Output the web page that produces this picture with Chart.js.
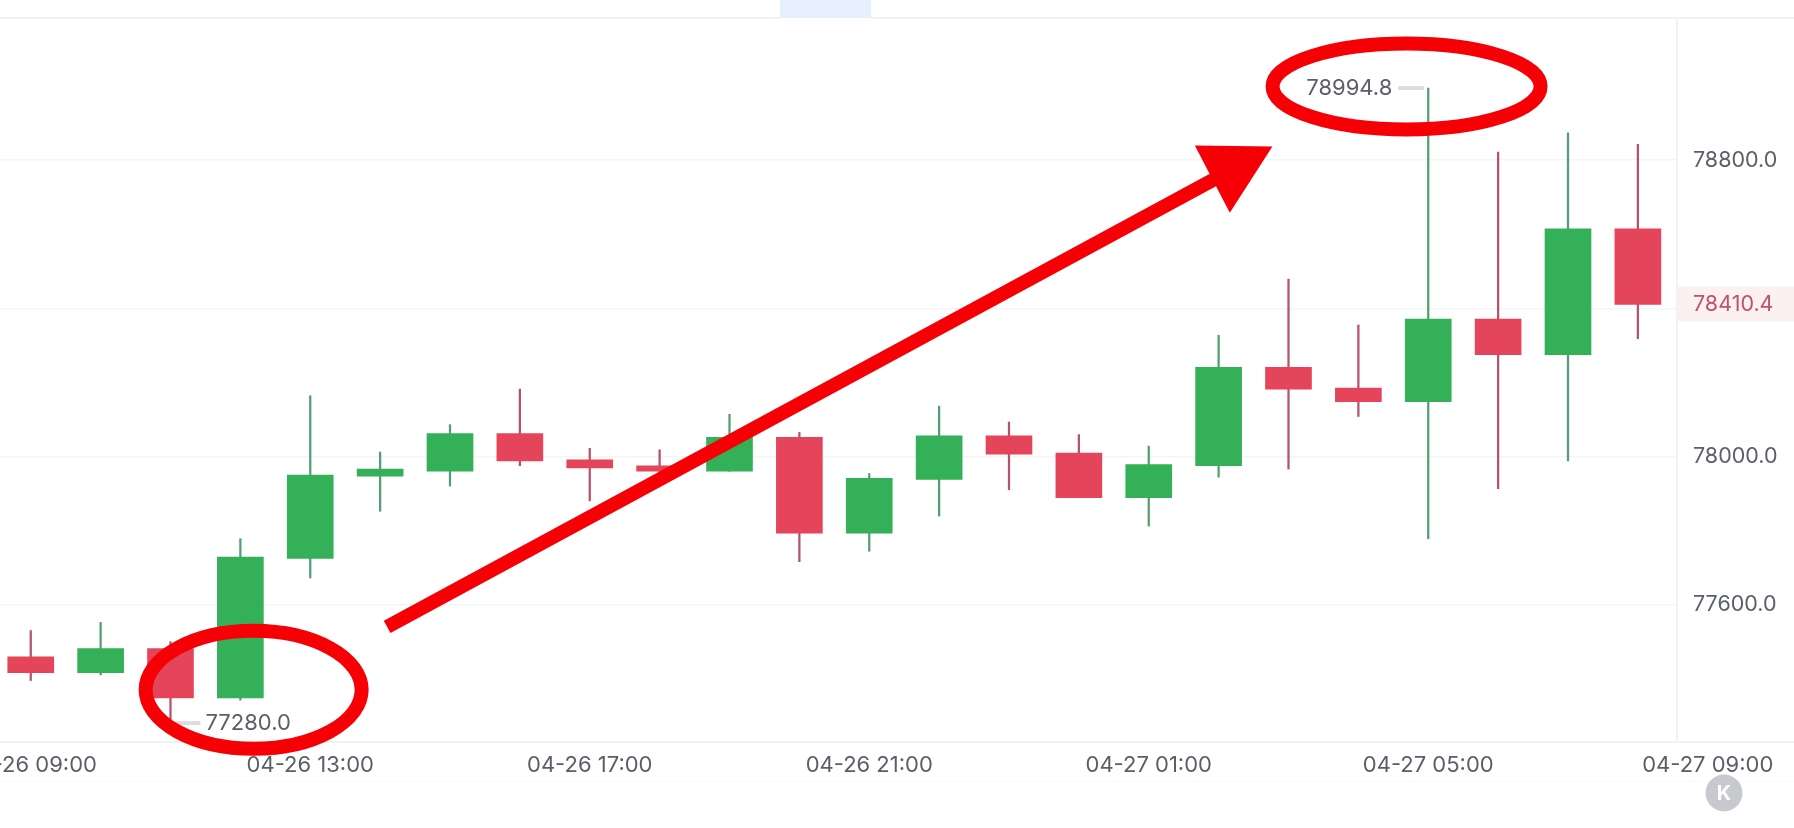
<!DOCTYPE html>
<html>
<head>
<meta charset="utf-8">
<title>BTC candles</title>
<script src="https://cdn.jsdelivr.net/npm/chart.js@4"></script>
<style>
    html, body { margin: 0; padding: 0; background: #fff; overflow: hidden; }
    canvas { display: block; }
</style>
</head>
<body>
<canvas id="kline_chart" width="1794" height="828"></canvas>
<script>
const times = ['04-26 09:00', '04-26 10:00', '04-26 11:00', '04-26 12:00', '04-26 13:00', '04-26 14:00',
    '04-26 15:00', '04-26 16:00', '04-26 17:00', '04-26 18:00', '04-26 19:00', '04-26 20:00',
    '04-26 21:00', '04-26 22:00', '04-26 23:00', '04-27 00:00', '04-27 01:00', '04-27 02:00',
    '04-27 03:00', '04-27 04:00', '04-27 05:00', '04-27 06:00', '04-27 07:00', '04-27 08:00'];
const opens = [77459, 77416, 77481, 77348, 77725, 77947, 77960, 78062, 77991, 77975, 77960, 78052,
    77793, 77938, 78056, 78009, 77889, 77975, 78241, 78185, 78148, 78371, 78275, 78615];
const closes = [77416, 77481, 77348, 77728, 77950, 77966, 78062, 77988, 77969, 77960, 78052, 77793,
    77941, 78056, 78006, 77889, 77978, 78241, 78182, 78148, 78371, 78275, 78615, 78410.4];
const lows = [77395, 77410, 77280, 77342, 77672, 77852, 77920, 77975, 77880, 77923, 77960, 77716,
    77744, 77839, 77910, 77889, 77812, 77944, 77966, 78108, 77778, 77913, 77988, 78318];
const highs = [77530, 77552, 77500, 77778, 78164, 78012, 78086, 78182, 78022, 78018, 78114, 78065,
    77954, 78136, 78093, 78059, 78028, 78327, 78479, 78355, 78995, 78822, 78874, 78843];

const xTickValues = [0, 4, 8, 12, 16, 20, 24];
const xTickLabels = ['04-26 09:00', '04-26 13:00', '04-26 17:00', '04-26 21:00', '04-27 01:00', '04-27 05:00', '04-27 09:00'];
const yTickValues = [77600, 78000, 78400, 78410.4, 78800];
const lastPrice = 78410.4;

// the extremes marked on the chart
const highMark = { index: 20, value: 78994.8, label: '78994.8' };
const lowMark = { index: 2, value: 77280, label: '77280.0' };

const green = '#33b058';
const red = '#e5455a';
const greenWick = '#539f73';
const redWick = '#b5536d';
const textColor = '#5a5e66';
const fontFamily = 'Inter, Roboto, sans-serif';

const bodies = times.map((t, i) => ({ x: i, y: [opens[i], closes[i]] }));
const wicks = times.map((t, i) => ({ x: i, y: [lows[i], highs[i]] }));
const isUp = i => closes[i] >= opens[i];

// frame lines, extreme labels and the red hand drawn marks
const overlay = {
    id: 'overlay',
    beforeDatasetsDraw(chart) {
        const ctx = chart.ctx;
        const area = chart.chartArea;
        ctx.save();
        ctx.fillStyle = '#e6f0fd';
        ctx.fillRect(780, 0, 91, 18);
        ctx.fillStyle = '#f1f2f4';
        ctx.fillRect(0, 17, 780, 2);
        ctx.fillRect(871, 17, 923, 2);
        ctx.fillRect(0, area.bottom - 1, 1794, 2);
        ctx.fillRect(area.right - 1, area.top, 2, area.bottom - area.top);
        ctx.fillStyle = '#f9f9fa';
        ctx.fillRect(0, 781, 1794, 1);
        ctx.restore();
    },
    afterDatasetsDraw(chart) {
        const ctx = chart.ctx;
        const x = chart.scales.x;
        const y = chart.scales.y;
        ctx.save();

        // high / low labels with their small dash
        ctx.font = '22px ' + fontFamily;
        ctx.textBaseline = 'middle';
        ctx.fillStyle = '#dcdddf';
        ctx.fillRect(x.getPixelForValue(highMark.index) - 30, y.getPixelForValue(highMark.value) - 2, 26, 4);
        ctx.fillRect(x.getPixelForValue(lowMark.index) + 4, y.getPixelForValue(lowMark.value) - 2, 26, 4);
        ctx.fillStyle = textColor;
        ctx.textAlign = 'right';
        ctx.fillText(highMark.label, x.getPixelForValue(highMark.index) - 36, y.getPixelForValue(highMark.value));
        ctx.textAlign = 'left';
        ctx.fillText(lowMark.label, x.getPixelForValue(lowMark.index) + 35, y.getPixelForValue(lowMark.value));

        // red ellipses
        ctx.strokeStyle = '#f60006';
        ctx.fillStyle = '#f60006';
        ctx.lineWidth = 14;
        ctx.beginPath();
        ctx.ellipse(x.getPixelForValue(3.19), y.getPixelForValue(77370), 108, 59, 0, 0, Math.PI * 2);
        ctx.stroke();
        ctx.beginPath();
        ctx.ellipse(x.getPixelForValue(19.69), y.getPixelForValue(78999), 134, 43, 0, 0, Math.PI * 2);
        ctx.stroke();

        // red arrow
        ctx.lineWidth = 14;
        ctx.beginPath();
        ctx.moveTo(x.getPixelForValue(5.10), y.getPixelForValue(77540));
        ctx.lineTo(x.getPixelForValue(17.14), y.getPixelForValue(78769));
        ctx.stroke();
        ctx.beginPath();
        ctx.moveTo(x.getPixelForValue(16.66), y.getPixelForValue(78840));
        ctx.lineTo(x.getPixelForValue(17.77), y.getPixelForValue(78837));
        ctx.lineTo(x.getPixelForValue(17.16), y.getPixelForValue(78658));
        ctx.closePath();
        ctx.fill();

        // round button, bottom right
        ctx.fillStyle = '#c8c9ce';
        ctx.beginPath();
        ctx.arc(1724, 793, 18.5, 0, Math.PI * 2);
        ctx.fill();
        ctx.fillStyle = '#fff';
        ctx.font = 'bold 20px ' + fontFamily;
        ctx.textAlign = 'center';
        ctx.fillText('K', 1724, 794);
        ctx.restore();
    }
};

const ctx = document.getElementById('kline_chart').getContext('2d');

new Chart(ctx, {
    type: 'bar',
    data: {
        datasets: [{
            label: 'body',
            data: bodies,
            barThickness: 46,
            grouped: false,
            backgroundColor: times.map((t, i) => isUp(i) ? green : red)
        }, {
            label: 'wick',
            data: wicks,
            barThickness: 1.6,
            grouped: false,
            backgroundColor: times.map((t, i) => isUp(i) ? greenWick : redWick)
        }]
    },
    options: {
        responsive: false,
        animation: false,
        layout: { padding: { top: 18, left: 0, right: 0, bottom: 0 } },
        plugins: {
            legend: { display: false },
            tooltip: { enabled: false },
            title: { display: false }
        },
        scales: {
            x: {
                type: 'linear',
                offset: false,
                min: -0.44,
                max: 23.56,
                grid: { display: false, tickLength: 10 },
                border: { display: false },
                // empty first and last ticks keep the labels from squeezing the scale
                afterBuildTicks: axis => {
                    axis.ticks = [axis.min, ...xTickValues, axis.max].map(v => ({ value: v }));
                },
                afterFit: axis => {
                    axis.height = 86;
                },
                ticks: {
                    autoSkip: false,
                    maxRotation: 0,
                    padding: 0,
                    color: textColor,
                    font: { family: fontFamily, size: 22 },
                    callback: value => {
                        const i = xTickValues.indexOf(value);
                        return i < 0 ? '' : xTickLabels[i];
                    }
                }
            },
            y: {
                position: 'right',
                min: 77229,
                max: 79184,
                border: { display: false },
                grid: {
                    drawTicks: false,
                    lineWidth: 1.5,
                    color: c => c.tick && c.tick.value === lastPrice ? 'rgba(0,0,0,0)' : '#f5f5f6'
                },
                afterBuildTicks: axis => {
                    axis.ticks = yTickValues.map(v => ({ value: v }));
                },
                afterFit: axis => {
                    axis.width = 117;
                    axis.paddingTop = 0;
                    axis.paddingBottom = 0;
                },
                ticks: {
                    autoSkip: false,
                    padding: 16,
                    color: c => c.tick.value === lastPrice ? '#c2516a' : textColor,
                    font: { family: fontFamily, size: 21.5 },
                    showLabelBackdrop: c => c.tick.value === lastPrice,
                    backdropColor: '#fbf1f0',
                    backdropPadding: { left: 16, right: 40, top: 5, bottom: 4 },
                    callback: value => value === 78400 ? '' : value.toFixed(1)
                }
            }
        }
    },
    plugins: [overlay]
});
</script>
</body>
</html>
